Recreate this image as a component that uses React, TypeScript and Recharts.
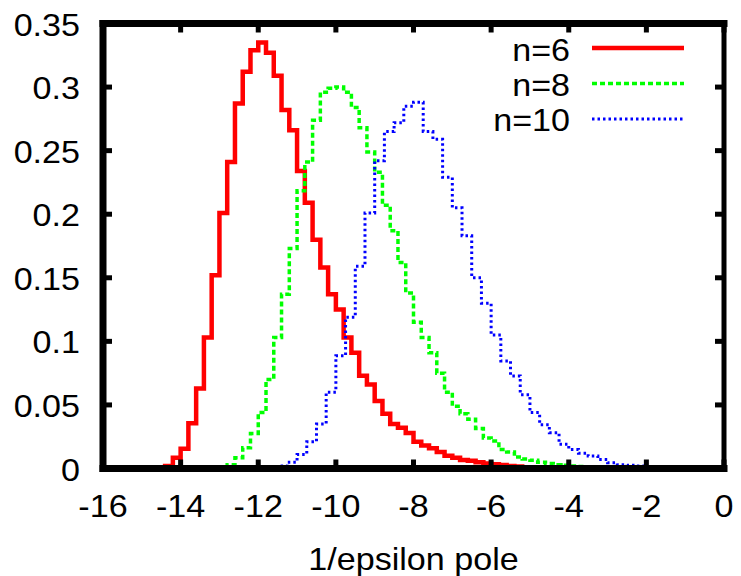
import { LineChart, Line, XAxis, YAxis, Legend } from 'recharts';

const X_TICKS = [-16, -14, -12, -10, -8, -6, -4, -2, 0];
const Y_TICKS = [0, 0.05, 0.1, 0.15, 0.2, 0.25, 0.3, 0.35];
const X_TITLE = '1/epsilon pole';

// histogram bins: left edge of the first bin and bin width, per series
const N6_START = -14.6;
const N6_WIDTH = 0.2;
const n6Values = [
    0.001, 0.002, 0.0085, 0.0156, 0.0356, 0.063, 0.103, 0.152, 0.201, 0.241,
    0.287, 0.312, 0.329, 0.335, 0.327, 0.309, 0.282, 0.266, 0.234, 0.209,
    0.18, 0.158, 0.137, 0.125, 0.103, 0.091, 0.073, 0.066, 0.053, 0.043,
    0.035, 0.032, 0.028, 0.021, 0.018, 0.016, 0.013, 0.01, 0.0085, 0.0067,
    0.006, 0.005, 0.004, 0.0033, 0.0028, 0.002, 0.0015, 0.001, 0.0005,
];

const N8_START = -13.0;
const N8_WIDTH = 0.2;
const n8Values = [
    0.0005, 0.003, 0.0085, 0.0164, 0.0275, 0.044, 0.07, 0.103, 0.137, 0.173,
    0.2185, 0.241, 0.274, 0.296, 0.299, 0.3, 0.296, 0.284, 0.268, 0.249,
    0.233, 0.207, 0.187, 0.162, 0.138, 0.115, 0.103, 0.091, 0.075, 0.06,
    0.049, 0.043, 0.0387, 0.0315, 0.024, 0.0217, 0.015, 0.013, 0.009, 0.0075,
    0.0065, 0.005, 0.004, 0.003, 0.0025, 0.002, 0.0015, 0.001, 0.0005,
];

const N10_START = -11.5;
const N10_WIDTH = 0.25;
const n10Values = [
    0.002, 0.005, 0.011, 0.021, 0.035, 0.06, 0.0886, 0.119, 0.159, 0.201,
    0.242, 0.265, 0.272, 0.285, 0.288, 0.265, 0.259, 0.229, 0.205, 0.183,
    0.15, 0.13, 0.105, 0.0846, 0.0728, 0.058, 0.044, 0.0345, 0.0282, 0.019,
    0.015, 0.012, 0.0098, 0.007, 0.0045, 0.003, 0.0025, 0.002, 0.0015, 0.001,
];

// step points for a stepAfter line: rise from 0 at the first edge, drop to 0 at the last
function toSteps(start: number, width: number, values: number[]) {
    const pts: { x: number, y: number }[] = [{ x: start, y: 0 }];
    values.forEach((v, i) => pts.push({ x: start + i * width, y: v }));
    pts.push({ x: start + values.length * width, y: 0 });
    return pts;
}

const n6Data = toSteps(N6_START, N6_WIDTH, n6Values);
const n8Data = toSteps(N8_START, N8_WIDTH, n8Values);
const n10Data = toSteps(N10_START, N10_WIDTH, n10Values);

const FONT = "'Liberation Sans', Arial, Helvetica, sans-serif";
const FONT_SIZE = 31;
const STRETCH = 1.1;
const TICK_LEN = 9;
const TICK_W = 5;

const series = [
    { label: 'n=6', color: '#ff0000', width: 4.5, dash: undefined as string | undefined },
    { label: 'n=8', color: '#00ff00', width: 3.5, dash: '5 3' },
    { label: 'n=10', color: '#0000ff', width: 3, dash: '2.5 3' },
];

function Txt({ x, y, text, anchor }: { x: number, y: number, text: string, anchor: 'start' | 'middle' | 'end' }) {
    return (
        <text
            transform={`translate(${x},${y}) scale(${STRETCH},1)`}
            textAnchor={anchor}
            fontFamily={FONT}
            fontSize={FONT_SIZE}
            fill="#000"
        >
            {text}
        </text>
    );
}

function BottomTick(props: any) {
    const { x, y, payload } = props;
    return (
        <g>
            <line x1={x} x2={x} y1={y} y2={y - TICK_LEN} stroke="#000" strokeWidth={TICK_W} />
            <Txt x={x} y={y + 48} text={String(payload.value)} anchor="middle" />
        </g>
    );
}

function TopTick(props: any) {
    const { x, y } = props;
    return <line x1={x} x2={x} y1={y} y2={y + TICK_LEN} stroke="#000" strokeWidth={TICK_W} />;
}

function LeftTick(props: any) {
    const { x, y, payload } = props;
    return (
        <g>
            <line x1={x} x2={x + TICK_LEN} y1={y} y2={y} stroke="#000" strokeWidth={TICK_W} />
            <Txt x={x - 23} y={y + 12} text={String(payload.value)} anchor="end" />
        </g>
    );
}

function RightTick(props: any) {
    const { x, y } = props;
    return <line x1={x} x2={x - TICK_LEN} y1={y} y2={y} stroke="#000" strokeWidth={TICK_W} />;
}

function XTitle(props: any) {
    const vb = props.viewBox || {};
    return <Txt x={vb.x + vb.width / 2} y={vb.y + 101.5} text={X_TITLE} anchor="middle" />;
}

function LegendBox() {
    return (
        <svg width={300} height={120} style={{ overflow: 'visible' }}>
            {series.map((s, i) => (
                <g key={s.label}>
                    <Txt x={170} y={36 + i * 35} text={s.label} anchor="end" />
                    <line
                        x1={192} x2={284} y1={23 + i * 35.5} y2={23 + i * 35.5}
                        stroke={s.color} strokeWidth={s.width} strokeDasharray={s.dash}
                    />
                </g>
            ))}
        </svg>
    );
}

const border = (w: number) => ({ stroke: '#000', strokeWidth: w, strokeLinecap: 'square' as const });

export default function App() {
    return (
        <div style={{ position: 'absolute', left: 0, top: 0, width: 741, height: 576, background: '#fff' }}>
            <LineChart width={741} height={576} margin={{ top: 22.5, right: 16, bottom: 106.5, left: 102 }}>
                <XAxis
                    dataKey="x" type="number" domain={[-16, 0]} ticks={X_TICKS} interval={0}
                    height={1} tickSize={0} tickMargin={0} tickLine={false} allowDataOverflow
                    axisLine={border(7)} tick={<BottomTick />} label={<XTitle />}
                />
                <XAxis
                    xAxisId="top" orientation="top" dataKey="x" type="number" domain={[-16, 0]} ticks={X_TICKS}
                    interval={0} height={1} tickSize={0} tickMargin={0} tickLine={false} allowDataOverflow
                    axisLine={border(7)} tick={<TopTick />}
                />
                <YAxis
                    type="number" domain={[0, 0.35]} ticks={Y_TICKS} interval={0} width={1}
                    tickSize={0} tickMargin={0} tickLine={false} allowDataOverflow
                    axisLine={border(7)} tick={<LeftTick />}
                />
                <YAxis
                    yAxisId="right" orientation="right" type="number" domain={[0, 0.35]} ticks={Y_TICKS}
                    interval={0} width={1} tickSize={0} tickMargin={0} tickLine={false} allowDataOverflow
                    axisLine={border(5)} tick={<RightTick />}
                />
                <Line data={n6Data} dataKey="y" type="stepAfter" stroke={series[0].color} strokeWidth={series[0].width}
                    dot={false} activeDot={false} isAnimationActive={false} />
                <Line data={n8Data} dataKey="y" type="stepAfter" stroke={series[1].color} strokeWidth={series[1].width}
                    strokeDasharray={series[1].dash} dot={false} activeDot={false} isAnimationActive={false} />
                <Line data={n10Data} dataKey="y" type="stepAfter" stroke={series[2].color} strokeWidth={series[2].width}
                    strokeDasharray={series[2].dash} dot={false} activeDot={false} isAnimationActive={false} />
                <Legend
                    layout="vertical" align="center" verticalAlign="middle"
                    wrapperStyle={{ left: 400, top: 25, width: 300, height: 120 }}
                    content={() => <LegendBox />}
                />
            </LineChart>
        </div>
    );
}
